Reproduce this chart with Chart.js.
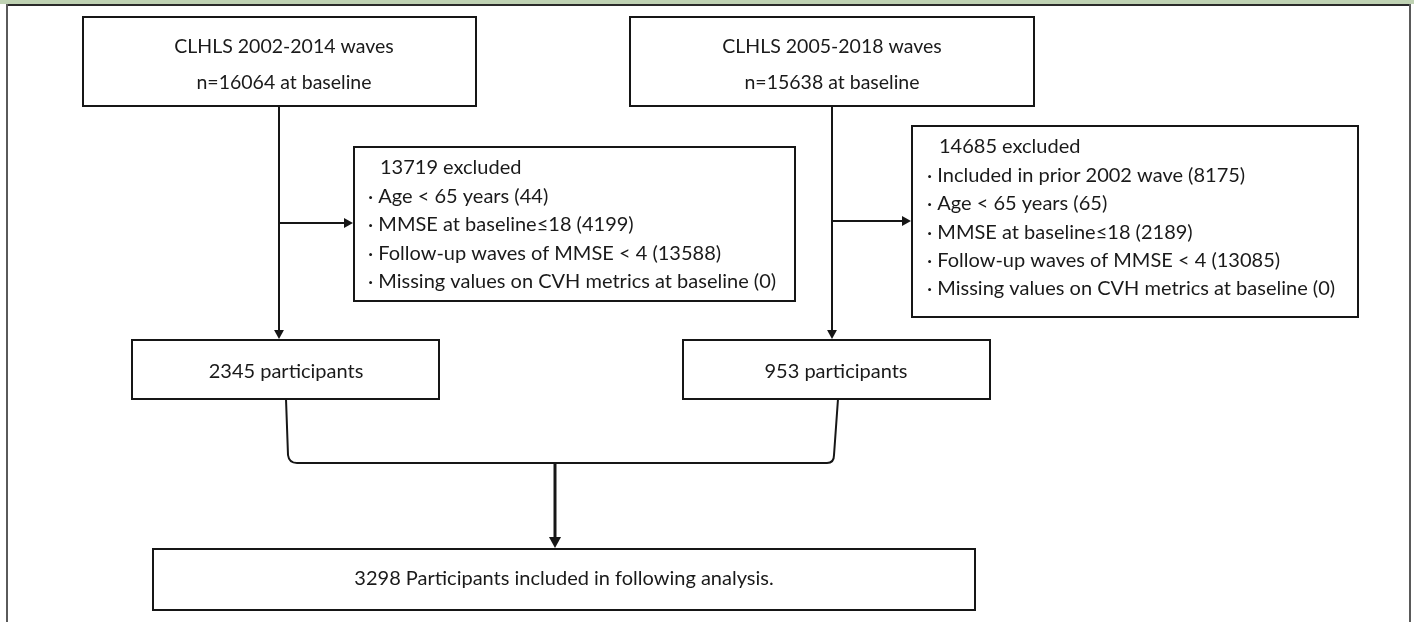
<!DOCTYPE html>
<html>
<head>
<meta charset="utf-8">
<script src="https://cdn.jsdelivr.net/npm/chart.js@4.4.1/dist/chart.umd.min.js"></script>
<style>
  html, body { margin: 0; padding: 0; background: #fff; }
  #wrap { width: 1414px; height: 622px; position: relative; }
</style>
</head>
<body>
<div id="wrap"><canvas id="flow"></canvas></div>
<script>
// flow chart data
const cohortNames = ['CLHLS 2002-2014 waves', 'CLHLS 2005-2018 waves'];
const baselineN = [16064, 15638];
const excludedN = [13719, 14685];
const reasonsA = ['Age < 65 years', 'MMSE at baseline\u226418', 'Follow-up waves of MMSE < 4', 'Missing values on CVH metrics at baseline'];
const countsA = [44, 4199, 13588, 0];
const reasonsB = ['Included in prior 2002 wave', 'Age < 65 years', 'MMSE at baseline\u226418', 'Follow-up waves of MMSE < 4', 'Missing values on CVH metrics at baseline'];
const countsB = [8175, 65, 2189, 13085, 0];
const participantsN = [2345, 953];
const finalN = 3298;

// layout in axis units (the axes span the canvas)
const layout = {
  top: [{x0: 83, x1: 476, y0: 17, y1: 106, cx: 284}, {x0: 630, x1: 1034, y0: 17, y1: 106, cx: 832}],
  stem: [279, 832],
  branchY: [223, 221],
  excl: [{x0: 354, x1: 795, y0: 147, y1: 301, tx: 368, ty: 168, dy: 28.5},
         {x0: 912, x1: 1358, y0: 126, y1: 317, tx: 927, ty: 147, dy: 28.4}],
  part: [{x0: 132, x1: 439, y0: 340, y1: 399, cx: 286, out: 286}, {x0: 683, x1: 990, y0: 340, y1: 399, cx: 836, out: 838}],
  joinY: 463,
  mid: 555,
  final: {x0: 153, x1: 975, y0: 549, y1: 610, cx: 564}
};

const FONT = "Lato, 'Noto Sans', 'Noto Sans CJK SC', sans-serif";
const INK = '#161616';

const flowPlugin = {
  id: 'flow',
  afterDraw(chart) {
    const ctx = chart.ctx;
    const sx = chart.scales.x, sy = chart.scales.y;
    const X = v => sx.getPixelForValue(v);
    const Y = v => sy.getPixelForValue(v);

    ctx.save();
    // frame
    ctx.fillStyle = '#bfd2b3';
    ctx.fillRect(X(0), Y(0), X(1414) - X(0), Y(4) - Y(0));
    ctx.fillStyle = '#2a2a2a';
    ctx.fillRect(X(6), Y(4), X(1411) - X(6), 2);
    ctx.fillStyle = '#5a5a5a';
    ctx.fillRect(X(6), Y(4), 2, Y(622) - Y(4));
    ctx.fillRect(X(1409), Y(4), 2, Y(622) - Y(4));

    const box = (b, lw) => {
      ctx.lineWidth = lw || 2;
      ctx.strokeStyle = INK;
      ctx.strokeRect(X(b.x0), Y(b.y0), X(b.x1) - X(b.x0), Y(b.y1) - Y(b.y0));
    };
    const line = (pts, lw) => {
      ctx.lineWidth = lw || 2;
      ctx.strokeStyle = INK;
      ctx.beginPath();
      pts.forEach((p, i) => i ? ctx.lineTo(X(p[0]), Y(p[1])) : ctx.moveTo(X(p[0]), Y(p[1])));
      ctx.stroke();
    };
    const head = (x, y, dir, size) => {
      const s = size || 9, w = s * 0.55;
      ctx.fillStyle = INK;
      ctx.beginPath();
      if (dir === 'down') {
        ctx.moveTo(X(x), Y(y));
        ctx.lineTo(X(x) - w, Y(y) - s);
        ctx.lineTo(X(x) + w, Y(y) - s);
      } else {
        ctx.moveTo(X(x), Y(y));
        ctx.lineTo(X(x) - s, Y(y) - w);
        ctx.lineTo(X(x) - s, Y(y) + w);
      }
      ctx.closePath();
      ctx.fill();
    };
    const text = (str, x, y, align, size) => {
      ctx.fillStyle = '#1a1a1a';
      ctx.font = (size || 20) + 'px ' + FONT;
      ctx.textAlign = align || 'center';
      ctx.textBaseline = 'middle';
      ctx.fillText(str, X(x), Y(y));
    };

    // cohort boxes and their stems
    layout.top.forEach((b, i) => {
      box(b);
      text(cohortNames[i], b.cx, 47, 'center', 19.5);
      text('n=' + baselineN[i] + ' at baseline', b.cx, 83, 'center', 19.5);
      const sxv = layout.stem[i], p = layout.part[i], e = layout.excl[i];
      line([[sxv, b.y1], [sxv, p.y0 - 8]]);
      head(sxv, p.y0 - 1, 'down');
      line([[sxv, layout.branchY[i]], [e.x0 - 8, layout.branchY[i]]]);
      head(e.x0 - 1, layout.branchY[i], 'right');
    });

    // exclusion boxes
    [[reasonsA, countsA], [reasonsB, countsB]].forEach((r, i) => {
      const e = layout.excl[i];
      box(e);
      text(excludedN[i] + ' excluded', e.tx + 12, e.ty, 'left');
      r[0].forEach((reason, k) => {
        text('\u00b7 ' + reason + ' (' + r[1][k] + ')', e.tx, e.ty + e.dy * (k + 1), 'left');
      });
    });

    // participant boxes
    layout.part.forEach((p, i) => {
      box(p);
      text(participantsN[i] + ' participants', p.cx, 372);
    });

    // joining bracket
    const a = layout.part[0].out, b = layout.part[1].out, jy = layout.joinY;
    ctx.lineWidth = 2;
    ctx.strokeStyle = INK;
    ctx.beginPath();
    ctx.moveTo(X(a), Y(399));
    ctx.lineTo(X(a + 2), Y(jy - 8));
    ctx.quadraticCurveTo(X(a + 3), Y(jy), X(a + 11), Y(jy));
    ctx.lineTo(X(b - 11), Y(jy));
    ctx.quadraticCurveTo(X(b - 4), Y(jy), X(b - 4), Y(jy - 8));
    ctx.lineTo(X(b), Y(399));
    ctx.stroke();

    // to final box
    line([[layout.mid, jy + 1], [layout.mid, layout.final.y0 - 10]], 3);
    head(layout.mid, layout.final.y0 - 1, 'down', 11);
    box(layout.final);
    text(finalN + ' Participants included in following analysis.', layout.final.cx, 579);
    ctx.restore();
  }
};

new Chart(document.getElementById('flow'), {
  type: 'scatter',
  data: { datasets: [{ data: [], showLine: false }] },
  options: {
    responsive: true,
    maintainAspectRatio: false,
    animation: false,
    devicePixelRatio: 1,
    layout: { padding: 0 },
    plugins: { legend: { display: false }, tooltip: { enabled: false } },
    scales: {
      x: { type: 'linear', min: 0, max: 1414, display: false },
      y: { type: 'linear', min: 0, max: 622, reverse: true, display: false }
    }
  },
  plugins: [flowPlugin]
});
</script>
</body>
</html>
